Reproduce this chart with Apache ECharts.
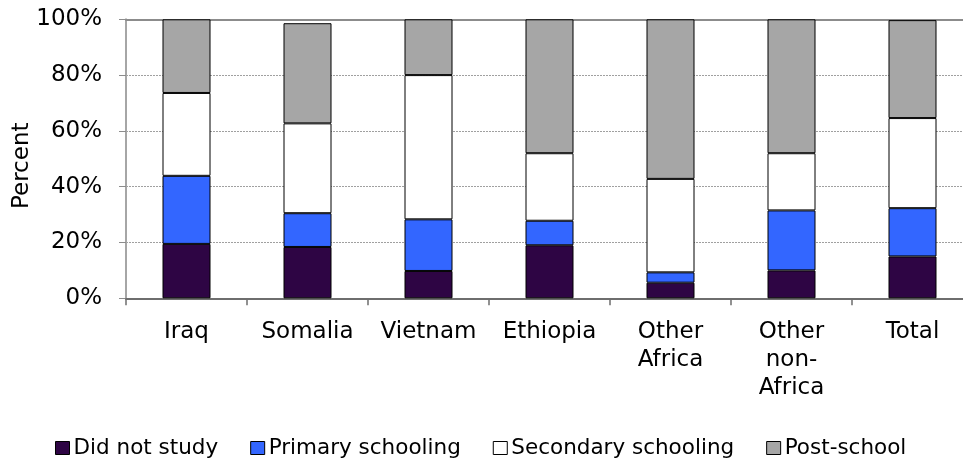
<!DOCTYPE html>
<html>
<head>
<meta charset="utf-8">
<script src="https://cdn.jsdelivr.net/npm/echarts@6/dist/echarts.min.js"></script>
<style>
  html, body { margin: 0; padding: 0; background: #fff; }
  #chart { width: 963px; height: 461px; }
</style>
</head>
<body>
<div id="chart"></div>
<script>
// Country groups shown along the category axis
const categories = ['Iraq', 'Somalia', 'Vietnam', 'Ethiopia', 'Other\nAfrica', 'Other\nnon-\nAfrica', 'Total'];

// Share of each group (percent) by highest level of education
const didNotStudy = [19.5, 18.4, 9.8, 19.0, 5.6, 10.0, 15.0];
const primarySchooling = [24.4, 12.1, 18.5, 8.8, 3.7, 21.5, 17.3];
const secondarySchooling = [29.7, 32.2, 51.7, 24.2, 33.5, 20.5, 32.3];
const postSchool = [26.4, 35.9, 20.0, 48.0, 57.2, 48.0, 35.1];

const yTicks = [0, 20, 40, 60, 80, 100];

const FONT = '"DejaVu Sans", Verdana, sans-serif';

function stackSeries(name, data, color) {
  return {
    name: name,
    type: 'bar',
    stack: 'edu',
    data: data,
    barWidth: 48,
    itemStyle: { color: color, borderColor: '#000', borderWidth: 1 },
    emphasis: { disabled: true }
  };
}

const chart = echarts.init(document.getElementById('chart'), null, { renderer: 'canvas' });

chart.setOption({
  animation: false,
  backgroundColor: '#fff',
  textStyle: { fontFamily: FONT, color: '#000' },
  // the plot area runs a little past the right edge of the canvas
  grid: { left: 126, top: 19.3, width: 847, height: 279, outerBoundsMode: 'none', containLabel: false },
  legend: {
    left: 50,
    top: 432,
    itemWidth: 14,
    itemHeight: 13,
    itemGap: 32,
    icon: 'rect',
    selectedMode: false,
    textStyle: { fontFamily: FONT, fontSize: 21.5, color: '#000', padding: [0, 0, 0, -1] },
    itemStyle: { borderColor: '#000', borderWidth: 1 },
    data: ['Did not study', 'Primary schooling', 'Secondary schooling', 'Post-school']
  },
  xAxis: [
    {
      type: 'category',
      data: categories,
      axisLine: { lineStyle: { color: '#6e6e6e', width: 2 } },
      axisTick: { show: true, length: 7, lineStyle: { color: '#6e6e6e', width: 1.5 } },
      axisLabel: {
        fontFamily: FONT, fontSize: 23, color: '#000',
        margin: 20, lineHeight: 28, interval: 0
      }
    },
    {
      type: 'category',
      position: 'top',
      data: categories,
      axisLine: { lineStyle: { color: '#8c8c8c', width: 2 } },
      axisTick: { show: false },
      axisLabel: { show: false }
    }
  ],
  yAxis: {
    type: 'value',
    min: yTicks[0],
    max: yTicks[yTicks.length - 1],
    interval: 20,
    name: 'Percent',
    nameLocation: 'middle',
    nameGap: 92,
    nameMoveOverlap: false,
    nameRotate: 90,
    nameTextStyle: { fontFamily: FONT, fontSize: 23, color: '#000', padding: [0, 14, 0, 0] },
    axisLine: { show: true, lineStyle: { color: '#a6a6a6', width: 2 } },
    axisTick: { show: true, length: 7, lineStyle: { color: '#8c8c8c', width: 1 } },
    axisLabel: {
      fontFamily: FONT, fontSize: 23, color: '#000', margin: 24,
      formatter: '{value}%'
    },
    splitLine: { show: true, lineStyle: { color: '#a0a0a0', type: [2, 1], width: 1 } }
  },
  series: [
    stackSeries('Did not study', didNotStudy, '#2e0544'),
    stackSeries('Primary schooling', primarySchooling, '#3366ff'),
    stackSeries('Secondary schooling', secondarySchooling, '#ffffff'),
    stackSeries('Post-school', postSchool, '#a6a6a6')
  ]
});
</script>
</body>
</html>
